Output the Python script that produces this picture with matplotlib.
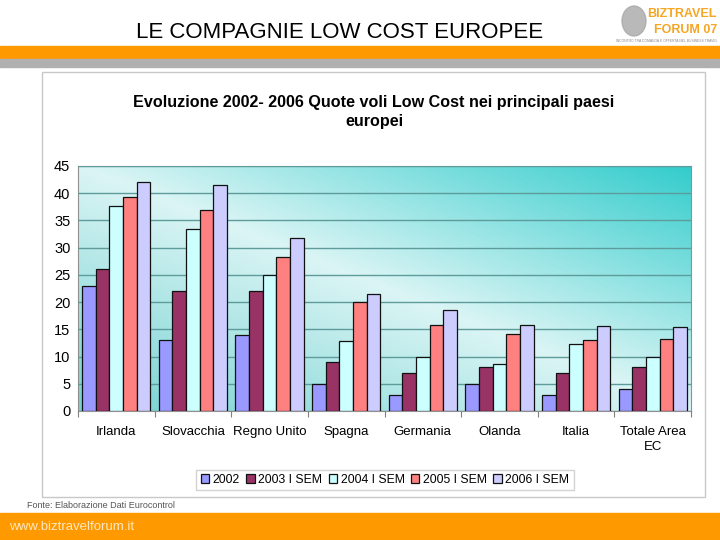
import matplotlib
matplotlib.use("Agg")
import matplotlib.pyplot as plt
import numpy as np
from matplotlib.patches import Rectangle, Ellipse

plt.rcParams['font.family'] = ['Liberation Sans', 'DejaVu Sans']

# data
paesi = ['Irlanda', 'Slovacchia', 'Regno Unito', 'Spagna', 'Germania',
         'Olanda', 'Italia', 'Totale Area\nEC']
serie = ['2002', '2003 I SEM', '2004 I SEM', '2005 I SEM', '2006 I SEM']
v2002 = [23, 13, 14, 5, 3, 5, 3, 4]
v2003 = [26, 22, 22, 9, 7, 8, 7, 8]
v2004 = [37.7, 33.4, 25, 12.8, 10, 8.7, 12.3, 10]
v2005 = [39.3, 36.9, 28.3, 20.1, 15.8, 14.2, 13.1, 13.2]
v2006 = [42, 41.5, 31.7, 21.4, 18.6, 15.8, 15.6, 15.4]
valori = [v2002, v2003, v2004, v2005, v2006]
colori = ['#9999FF', '#993366', '#CCFFFF', '#FF8080', '#CCCCFF']

fig = plt.figure(figsize=(7.2, 5.4), dpi=100)

# header bars
fig.patches.append(Rectangle((0, 1 - 59/540), 1, 13/540, transform=fig.transFigure,
                             color='#FF9900', zorder=-2))
fig.patches.append(Rectangle((0, 1 - 67/540), 1, 8/540, transform=fig.transFigure,
                             color='#B0B0B0', zorder=-2))
fig.text(340/720, 1 - 32/540, 'LE COMPAGNIE LOW COST EUROPEE', ha='center', va='center',
         fontsize=16, color='black')
# logo (rough approximation)
fig.patches.append(Ellipse((634/720, 1 - 21/540), 24/720, 30/540, transform=fig.transFigure,
                           color='#A8A8A8', alpha=0.8, zorder=-2))
fig.text(717/720, 1 - 14/540, 'BIZTRAVEL', ha='right', va='center', fontsize=9,
         fontweight='bold', color='#F5A623')
fig.text(717/720, 1 - 30/540, 'FORUM 07', ha='right', va='center', fontsize=9,
         fontweight='bold', color='#F5A623')
fig.text(717/720, 1 - 41/540, 'INCONTRO TRA DOMANDA E OFFERTA NEL BUSINESS TRAVEL',
         ha='right', va='center', fontsize=2.4, color='#888888')

# footer
fig.patches.append(Rectangle((0, 0), 1, 27/540, transform=fig.transFigure,
                             color='#FF9900', zorder=-2))
fig.text(9/720, 13/540, 'www.biztravelforum.it', ha='left', va='center', fontsize=9.5,
         color='#FFE8C0')
fig.text(27/720, 1 - 506/540, 'Fonte: Elaborazione Dati Eurocontrol', ha='left',
         va='center', fontsize=6.5, color='#555555')

# chart frame
fig.patches.append(Rectangle((42/720, 1 - 497/540), 663/720, 425/540,
                             transform=fig.transFigure, facecolor='white',
                             edgecolor='#C8C8C8', lw=1, zorder=-1))
fig.text(374/720, 1 - 112/540,
         'Evoluzione 2002- 2006 Quote voli Low Cost nei principali paesi\neuropei',
         ha='center', va='center', fontsize=11.6, fontweight='bold', linespacing=1.4)

ax = fig.add_axes([78/720, 1 - 411/540, 613/720, 245/540], zorder=2)

# diagonal gradient background
ny, nx = 200, 300
yy, xx = np.mgrid[0:1:ny*1j, 0:1:nx*1j]
s = (xx + yy) / 2
dark_hi = np.array([0.2, 0.8, 0.8])
dark_lo = np.array([0.45, 0.82, 0.82])
light = np.array([0.86, 0.96, 0.96])
t = (s / 0.5)[..., None]
t2 = ((s - 0.5) / 0.5)[..., None]
img = np.where((s < 0.5)[..., None], dark_lo + (light - dark_lo) * t,
               light + (dark_hi - light) * t2)
ax.imshow(img, extent=[-0.5, len(paesi) - 0.5, 0, 45], origin='lower', aspect='auto', zorder=0)

x = np.arange(len(paesi))
w = 0.178
for i, (vals, c, lab) in enumerate(zip(valori, colori, serie)):
    ax.bar(x + (i - 2) * w, vals, w, color=c, edgecolor='#111111', linewidth=0.9,
           label=lab, zorder=3)

ax.set_xlim(-0.5, len(paesi) - 0.5)
ax.set_ylim(0, 45)
ax.set_yticks(range(0, 46, 5))
ax.yaxis.grid(True, color='#5E9C9C', lw=1, zorder=1)
ax.set_axisbelow(False)
ax.set_xticks(np.arange(len(paesi) + 1) - 0.5)
ax.set_xticklabels([])
ax.set_xticks(x, minor=True)
ax.set_xticklabels(paesi, minor=True, fontsize=9.5, linespacing=1.3)
ax.tick_params(axis='x', which='minor', length=0, pad=11)
ax.tick_params(axis='x', which='major', length=4, color='#808080')
ax.tick_params(axis='y', length=0, labelsize=10.5, pad=5.5)
for sp in ax.spines.values():
    sp.set_color('#909090')
    sp.set_linewidth(0.8)

leg = fig.legend(loc='center', bbox_to_anchor=(385/720, 1 - 480/540), ncol=5,
                 fontsize=8.8, frameon=True, fancybox=False, edgecolor='#C8C8C8',
                 handlelength=0.7, handleheight=0.7, handletextpad=0.3,
                 columnspacing=0.5, borderpad=0.35)

fig.savefig('out.png', dpi=100)
